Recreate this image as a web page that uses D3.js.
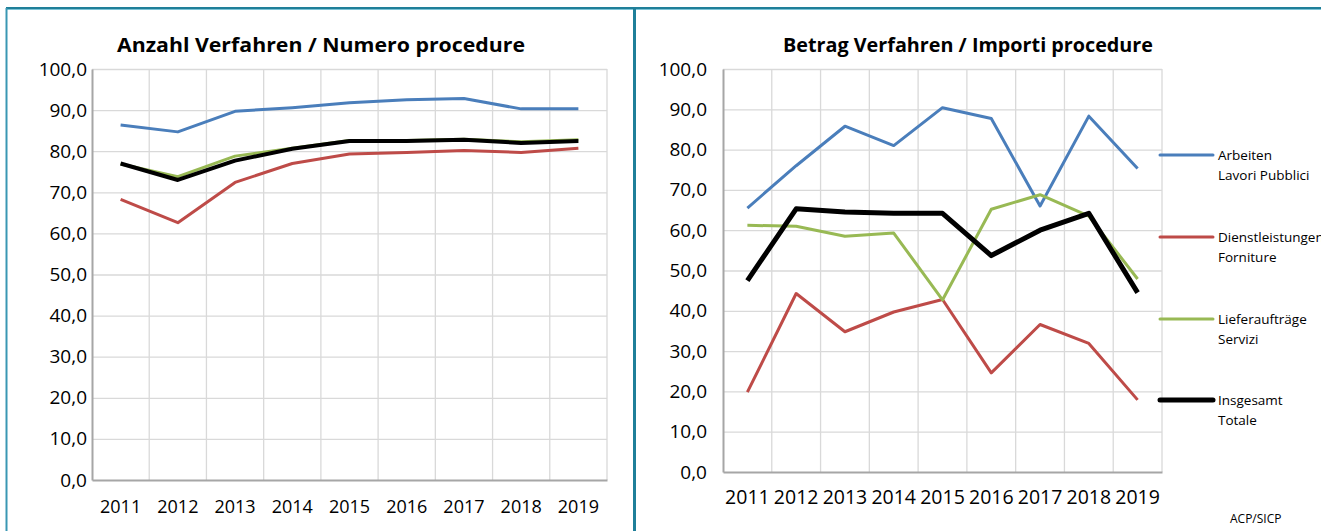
<!DOCTYPE html>
<html>
<head>
<meta charset="utf-8">
<script src="https://cdn.jsdelivr.net/npm/d3@7"></script>
<style>
  body { margin: 0; background: #fff; overflow: hidden; }
  svg { display: block; }
  text { font-family: "Open Sans", "DejaVu Sans", sans-serif; fill: #000; }
</style>
</head>
<body>
<svg id="chart" width="1321" height="531"></svg>
<script>
// years on the x axis
var years = ["2011", "2012", "2013", "2014", "2015", "2016", "2017", "2018", "2019"];
var yTicks = [0, 10, 20, 30, 40, 50, 60, 70, 80, 90, 100];

// left chart: Anzahl Verfahren / Numero procedure
var anzahlArbeiten = [86.4, 84.7, 89.7, 90.6, 91.8, 92.5, 92.8, 90.3, 90.3];
var anzahlDienst   = [68.3, 62.6, 72.4, 77.0, 79.3, 79.7, 80.2, 79.7, 80.7];
var anzahlLiefer   = [76.9, 73.8, 78.8, 80.7, 82.6, 82.6, 82.9, 82.3, 82.8];
var anzahlTotal    = [77.0, 73.0, 77.7, 80.6, 82.5, 82.5, 82.8, 82.0, 82.5];

// right chart: Betrag Verfahren / Importi procedure
var betragArbeiten = [65.5, 76.0, 85.8, 81.0, 90.4, 87.7, 66.0, 88.3, 75.3];
var betragDienst   = [19.8, 44.3, 34.8, 39.7, 42.8, 24.6, 36.6, 31.9, 17.9];
var betragLiefer   = [61.2, 61.0, 58.5, 59.3, 42.7, 65.2, 68.8, 63.5, 47.9];
var betragTotal    = [47.5, 65.3, 64.5, 64.2, 64.2, 53.7, 60.0, 64.2, 44.5];

var legendLabels = [
  ["Arbeiten", "Lavori Pubblici"],
  ["Dienstleistungen", "Forniture"],
  ["Lieferaufträge", "Servizi"],
  ["Insgesamt", "Totale"]
];
var colors = ["#4a7ebb", "#be4b48", "#98b954", "#000000"];

var svg = d3.select("#chart");

// panel frame
svg.append("line").attr("x1", 6).attr("x2", 1321).attr("y1", 8).attr("y2", 8)
  .attr("stroke", "#1f7f99").attr("stroke-width", 2);
svg.append("line").attr("x1", 6).attr("x2", 1321).attr("y1", 9.5).attr("y2", 9.5)
  .attr("stroke", "#7cc3d6").attr("stroke-width", 1);
svg.append("line").attr("x1", 6.5).attr("x2", 6.5).attr("y1", 8).attr("y2", 531)
  .attr("stroke", "#3a97b3").attr("stroke-width", 2);
svg.append("line").attr("x1", 634.5).attr("x2", 634.5).attr("y1", 8).attr("y2", 531)
  .attr("stroke", "#1f7f99").attr("stroke-width", 3);

function drawChart(opt) {
  var g = svg.append("g");

  var x = d3.scaleBand().domain(years).range([opt.left, opt.right]);
  var y = d3.scaleLinear().domain([0, 100]).range([opt.bottom, opt.top]);
  var cx = function(d) { return x(d) + x.bandwidth() / 2; };

  // gridlines
  g.append("g").selectAll("line").data(yTicks.filter(function(t) { return t > 0; }))
    .enter().append("line")
    .attr("x1", opt.left).attr("x2", opt.right)
    .attr("y1", function(d) { return y(d) + 0.5; }).attr("y2", function(d) { return y(d) + 0.5; })
    .attr("stroke", "#d9d9d9").attr("stroke-width", 1.3);
  g.append("g").selectAll("line").data(years.slice(1).concat(["end"]))
    .enter().append("line")
    .attr("x1", function(d) { return d == "end" ? opt.right : x(d); })
    .attr("x2", function(d) { return d == "end" ? opt.right : x(d); })
    .attr("y1", opt.top).attr("y2", opt.bottom)
    .attr("stroke", "#d9d9d9").attr("stroke-width", 1.3);

  // axes
  var yAxis = g.append("g")
    .attr("transform", "translate(" + opt.left + ",0)")
    .call(d3.axisLeft(y).tickValues(yTicks).tickSize(0).tickPadding(opt.yPad)
      .tickFormat(function(d) { return d3.format(".1f")(d).replace(".", ","); }));
  yAxis.select(".domain").attr("stroke", "#a6a6a6").attr("stroke-width", 2);
  yAxis.selectAll("text").style("font-size", "19px");

  var xAxis = g.append("g")
    .attr("transform", "translate(0," + opt.bottom + ")")
    .call(d3.axisBottom(x).tickSize(0).tickPadding(opt.xPad));
  xAxis.select(".domain").attr("stroke", "#a6a6a6").attr("stroke-width", 2);
  xAxis.selectAll("text").style("font-size", opt.xFont);

  // title
  g.append("text")
    .attr("x", opt.titleX).attr("y", 52)
    .attr("text-anchor", "middle")
    .attr("textLength", opt.titleWidth)
    .attr("lengthAdjust", "spacingAndGlyphs")
    .style("font-size", "20px").style("font-weight", "bold")
    .text(opt.title);

  var line = d3.line()
    .x(function(d, i) { return cx(years[i]); })
    .y(function(d) { return y(d); });

  opt.series.forEach(function(s, i) {
    g.append("path")
      .datum(s)
      .attr("d", line)
      .attr("fill", "none")
      .attr("stroke", colors[i])
      .attr("stroke-width", i == 3 ? opt.totalWidth : 3)
      .attr("stroke-linejoin", "round");
  });
}

drawChart({
  left: 92, right: 607, top: 69, bottom: 480,
  yPad: 5, xPad: 20, xFont: "18px",
  titleX: 321, titleWidth: 408,
  title: "Anzahl Verfahren / Numero procedure",
  series: [anzahlArbeiten, anzahlDienst, anzahlLiefer, anzahlTotal],
  totalWidth: 4
});

drawChart({
  left: 723, right: 1162, top: 69, bottom: 472,
  yPad: 16, xPad: 18, xFont: "19.5px",
  titleX: 968, titleWidth: 370,
  title: "Betrag Verfahren / Importi procedure",
  series: [betragArbeiten, betragDienst, betragLiefer, betragTotal],
  totalWidth: 5
});

// legend for the right chart
var legendY = [155, 237, 319, 400];
var legend = svg.append("g").selectAll("g").data(legendLabels).enter().append("g")
  .attr("transform", function(d, i) { return "translate(1160," + legendY[i] + ")"; });
legend.append("line")
  .attr("x1", 0).attr("x2", 53)
  .attr("stroke", function(d, i) { return colors[i]; })
  .attr("stroke-width", function(d, i) { return i == 3 ? 5 : 3; })
  .attr("stroke-linecap", "round");
legend.append("text")
  .attr("x", 58).attr("y", 5)
  .style("font-size", "13.5px")
  .text(function(d) { return d[0]; });
legend.append("text")
  .attr("x", 58).attr("y", 25)
  .style("font-size", "13.5px")
  .text(function(d) { return d[1]; });

svg.append("text")
  .attr("x", 1230).attr("y", 523)
  .style("font-size", "12px")
  .text("ACP/SICP");
</script>
</body>
</html>
